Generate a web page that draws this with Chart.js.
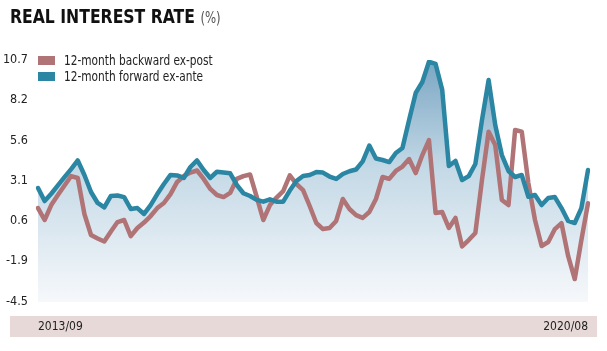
<!DOCTYPE html>
<html><head><meta charset="utf-8">
<script src="https://cdn.jsdelivr.net/npm/chart.js@4/dist/chart.umd.min.js"></script>
<style>
html,body{margin:0;padding:0;background:#fff;}
#wrap{position:relative;width:607px;height:351px;overflow:hidden;}
#c{position:absolute;left:0;top:0;}
.f{font-family:'DejaVu Sans Condensed','Liberation Sans Narrow',sans-serif;}
.t{position:absolute;left:10px;top:4px;font-weight:bold;font-size:20px;color:#111;white-space:nowrap;transform:scaleX(0.87);transform-origin:0 0;}
.t span{font-weight:normal;font-size:15px;color:#555;}
.box{position:absolute;left:38px;width:17px;height:9px;}
.lg{position:absolute;left:64px;font-size:14px;color:#222;white-space:nowrap;line-height:16px;transform:scaleX(0.84);transform-origin:0 0;}
</style></head>
<body>
<div id="wrap">
<canvas id="c" width="607" height="351"></canvas>
<div class="t f">REAL INTEREST RATE <span>(%)</span></div>
<div class="box" style="top:56px;background:#b07376"></div>
<div class="lg f" style="top:52px">12-month backward ex-post</div>
<div class="box" style="top:72px;background:#2a86a2"></div>
<div class="lg f" style="top:68px">12-month forward ex-ante</div>
</div>
<script>
const startLabel = "2013/09";
const endLabel = "2020/08";
const yTicks = [-4.5, -1.9, 0.6, 3.1, 5.6, 8.2, 10.7];
const backwardExPost = [1.40,0.65,1.59,2.22,2.82,3.41,3.29,1.03,-0.29,-0.51,-0.70,-0.07,0.52,0.65,-0.36,0.15,0.49,0.90,1.40,1.72,2.28,3.04,3.41,3.63,3.76,3.23,2.60,2.22,2.09,2.35,3.23,3.41,3.51,2.11,0.65,1.59,2.06,2.47,3.45,2.91,2.53,1.53,0.46,0.08,0.15,0.59,1.97,1.34,0.96,0.78,1.15,1.97,3.35,3.23,3.73,4.01,4.48,3.60,4.73,5.67,1.09,1.15,0.15,0.78,-1.01,-0.61,-0.17,3.16,6.20,5.36,1.91,1.59,6.30,6.20,2.97,0.65,-0.98,-0.73,0.08,0.45,-1.61,-3.06,-0.61,1.70];
const forwardExAnte = [2.66,1.84,2.30,2.82,3.34,3.85,4.39,3.48,2.41,1.72,1.44,2.16,2.19,2.09,1.34,1.40,1.03,1.59,2.28,2.91,3.48,3.45,3.29,3.98,4.39,3.79,3.29,3.68,3.63,3.58,2.85,2.33,2.16,1.91,1.80,1.95,1.80,1.80,2.50,3.10,3.41,3.48,3.66,3.63,3.38,3.23,3.54,3.71,3.82,4.33,5.33,4.51,4.42,4.29,4.86,5.17,6.93,8.63,9.32,10.59,10.45,8.82,4.04,4.36,3.16,3.41,4.17,6.93,9.44,6.62,4.73,3.73,3.35,3.48,2.11,2.22,1.59,2.03,2.09,1.40,0.59,0.46,1.40,3.79];

const months = [];
{ let y = 2013, m = 9;
  for (let i = 0; i < forwardExAnte.length; i++) {
    months.push(y + "/" + String(m).padStart(2, "0"));
    m++; if (m > 12) { m = 1; y++; }
  } }

const FONT = "'DejaVu Sans Condensed','Liberation Sans Narrow',sans-serif";

const bandPlugin = {
  id: 'band',
  beforeDraw(chart) {
    const c = chart.ctx;
    c.save();
    c.fillStyle = '#e6d9d8';
    c.fillRect(10, 316, 587, 21);
    c.restore();
  }
};

new Chart(document.getElementById('c'), {
  type: 'line',
  data: {
    labels: months,
    datasets: [
      {
        label: '12-month forward ex-ante',
        data: forwardExAnte,
        borderColor: '#2a86a2',
        borderWidth: 4.5,
        pointRadius: 0,
        tension: 0,
        borderJoinStyle: 'round',
        borderCapStyle: 'round',
        fill: 'start',
        backgroundColor: (ctx) => {
          const a = ctx.chart.chartArea;
          if (!a) return 'rgba(180,205,220,0.6)';
          const g = ctx.chart.ctx.createLinearGradient(0, a.top, 0, a.bottom);
          g.addColorStop(0, 'rgb(122,166,195)');
          g.addColorStop(0.45, 'rgb(196,217,230)');
          g.addColorStop(1, 'rgb(246,248,251)');
          return g;
        }
      },
      {
        label: '12-month backward ex-post',
        data: backwardExPost,
        borderColor: '#b07376',
        borderWidth: 4.5,
        pointRadius: 0,
        tension: 0,
        borderJoinStyle: 'round',
        borderCapStyle: 'round',
        fill: false
      }
    ]
  },
  options: {
    responsive: false,
    devicePixelRatio: 1,
    animation: false,
    layout: { padding: { top: 60, right: 19, bottom: 9, left: 0 } },
    plugins: {
      legend: { display: false },
      tooltip: { enabled: false },
      filler: { drawTime: 'beforeDatasetsDraw' }
    },
    scales: {
      x: {
        type: 'category',
        offset: false,
        grid: { display: false, drawTicks: false },
        border: { display: false },
        afterFit(s) { s.height = 40; },
        ticks: {
          autoSkip: false,
          maxRotation: 0,
          align: 'inner',
          padding: 18,
          color: '#222',
          font: { family: FONT, size: 12 },
          callback: function(v, i) {
            const l = this.getLabelForValue(v);
            return (l === startLabel || l === endLabel) ? l : '';
          }
        }
      },
      y: {
        min: -4.5,
        max: 10.7,
        grid: { display: false, drawTicks: false },
        border: { display: false },
        afterFit(s) { s.width = 38; },
        afterBuildTicks(s) { s.ticks = yTicks.map(v => ({ value: v })); },
        ticks: {
          padding: 10,
          color: '#222',
          font: { family: FONT, size: 12.5 },
          callback: (v) => v.toFixed(1)
        }
      }
    }
  },
  plugins: [bandPlugin]
});
</script>
</body></html>
